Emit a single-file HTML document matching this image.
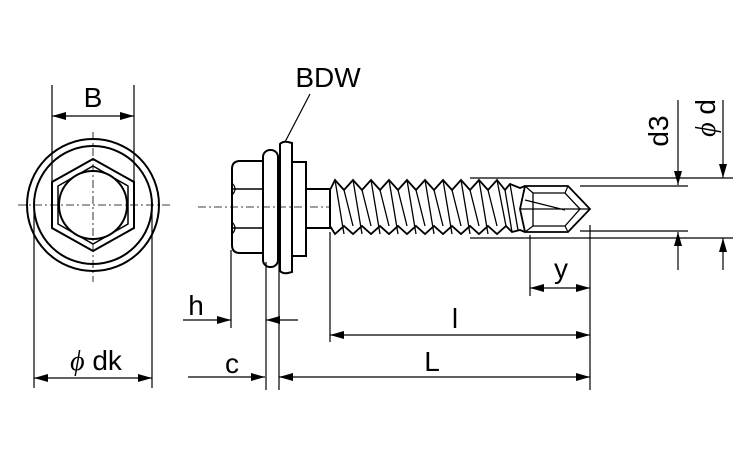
<!DOCTYPE html>
<html><head><meta charset="utf-8"><style>html,body{margin:0;padding:0;background:#fff}svg{display:block}</style></head><body>
<svg width="750" height="450" viewBox="0 0 750 450" xmlns="http://www.w3.org/2000/svg" font-family="Liberation Sans, sans-serif">
<defs>
<marker id="a" viewBox="0 0 14 8" refX="14" refY="4" markerWidth="14" markerHeight="8" markerUnits="userSpaceOnUse" orient="auto-start-reverse"><path d="M0,0 L14,4 L0,8 z" fill="#000"/></marker>
</defs>
<g fill="none" stroke="#000" stroke-width="1.2">
<!-- front view -->
<line x1="18" y1="205" x2="170" y2="205" stroke-width="0.8" stroke-dasharray="8,3,2,3"/>
<line x1="93" y1="132" x2="93" y2="282" stroke-width="0.8" stroke-dasharray="8,3,2,3"/>
<circle cx="93" cy="205" r="66" stroke-width="2"/>
<circle cx="93" cy="205" r="59" stroke-width="2"/>
<polygon points="93,159 134,182 134,228 93,251 52,228 52,182" stroke-width="2"/>
<polygon points="93,166 128,186 128,224 93,244 58,224 58,186" stroke-width="1.5"/>
<circle cx="93" cy="205" r="34" stroke-width="2"/>
<line x1="52" y1="85" x2="52" y2="182"/>
<line x1="134" y1="85" x2="134" y2="182"/>
<line x1="52" y1="116" x2="134" y2="116" marker-start="url(#a)" marker-end="url(#a)"/>
<line x1="34" y1="210" x2="34" y2="388"/>
<line x1="152" y1="210" x2="152" y2="388"/>
<line x1="34" y1="378" x2="152" y2="378" marker-start="url(#a)" marker-end="url(#a)"/>
<!-- side view -->
<line x1="198" y1="207" x2="330" y2="207" stroke-width="0.8" stroke-dasharray="8,3,2,3"/>
<path d="M240,161 H263 V253 H240 Q232,253 232,245 V169 Q232,161 240,161 Z" stroke-width="2"/>
<line x1="232" y1="189" x2="263" y2="189" stroke-width="1.5"/>
<line x1="232" y1="228" x2="263" y2="228" stroke-width="1.5"/>
<path d="M232,183 Q238,189 232,195 M232,222 Q238,228 232,234" stroke-width="1.2"/>
<rect x="263" y="150" width="15" height="117" rx="7" stroke-width="2"/>
<path d="M280,144 Q283,141 288,142 L292,143 V272 L288,273 Q283,274 280,271 Z" stroke-width="2"/>
<rect x="292" y="162" width="14" height="94" stroke-width="2"/>
<rect x="306" y="189" width="24" height="39" stroke-width="2"/>
<!-- threads -->
<path d="M330,190 L335,180 L344,190 L353,180 L362,190 L371,180 L380,190 L389,180 L398,190 L407,180 L416,190 L425,180 L434,190 L443,180 L452,190 L461,180 L470,190 L479,180 L488,190 L497,180 L505,190 L510,184 L520,188 L525,186" stroke-width="1.8"/>
<path d="M330,226 L335,234 L344,226 L353,234 L362,226 L371,234 L380,226 L389,234 L398,226 L407,234 L416,226 L425,234 L434,226 L443,234 L452,226 L461,234 L470,226 L479,234 L488,226 L497,234 L506,226 L512,232 L520,230 L525,232" stroke-width="1.8"/>
<line x1="330" y1="190" x2="330" y2="226" stroke-width="1.5"/>
<g stroke-width="1.3">
<path d="M335,180 L344,234 M344,190 L353,226 M353,180 L362,234 M362,190 L371,226 M371,180 L380,234 M380,190 L389,226 M389,180 L398,234 M398,190 L407,226 M407,180 L416,234 M416,190 L425,226 M425,180 L434,234 M434,190 L443,226 M443,180 L452,234 M452,190 L461,226 M461,180 L470,234 M470,190 L479,226 M479,180 L488,234 M488,190 L497,226 M497,180 L506,226 M505,190 L512,232 M510,184 L518,230"/>
</g>
<!-- drill tip -->
<polygon points="525,186 568,186 590,209 568,232 525,232 520,209" stroke-width="1.8"/>
<polygon points="533,193 565,193 580,209 565,226 533,226" stroke-width="1.3"/>
<path d="M525,186 L533,193 M568,186 L565,193 M590,209 L580,209 M568,232 L565,226 M525,232 L533,226 M520,209 L580,209 M525,200 L565,210" stroke-width="1.2"/>
<!-- BDW leader -->
<line x1="310" y1="94" x2="285" y2="142"/>
<!-- dims right -->
<line x1="470" y1="178" x2="733" y2="178"/>
<line x1="470" y1="238" x2="733" y2="238"/>
<line x1="580" y1="186" x2="688" y2="186"/>
<line x1="580" y1="231" x2="688" y2="231"/>
<line x1="678" y1="100" x2="678" y2="185" marker-end="url(#a)"/>
<line x1="678" y1="270" x2="678" y2="232" marker-end="url(#a)"/>
<line x1="723" y1="100" x2="723" y2="178" marker-end="url(#a)"/>
<line x1="723" y1="270" x2="723" y2="238" marker-end="url(#a)"/>
<!-- bottom dims -->
<line x1="231" y1="250" x2="231" y2="328"/>
<line x1="266" y1="262" x2="266" y2="390"/>
<line x1="279" y1="262" x2="279" y2="390"/>
<line x1="330" y1="232" x2="330" y2="342"/>
<line x1="530" y1="235" x2="530" y2="296"/>
<line x1="590" y1="225" x2="590" y2="390"/>
<line x1="183" y1="320" x2="231" y2="320" marker-end="url(#a)"/>
<line x1="298" y1="320" x2="266" y2="320" marker-end="url(#a)"/>
<line x1="188" y1="377" x2="265" y2="377" marker-end="url(#a)"/>
<line x1="279" y1="377" x2="590" y2="377" marker-start="url(#a)" marker-end="url(#a)"/>
<line x1="330" y1="335" x2="590" y2="335" marker-start="url(#a)" marker-end="url(#a)"/>
<line x1="530" y1="288" x2="590" y2="288" marker-start="url(#a)" marker-end="url(#a)"/>
</g>
<g fill="#000" font-size="28">
<text x="93" y="107" text-anchor="middle">B</text>
<text x="96" y="370" text-anchor="middle"><tspan font-family="Liberation Serif, serif" font-style="italic">ϕ</tspan> dk</text>
<text x="328" y="87" text-anchor="middle">BDW</text>
<text x="196" y="315" text-anchor="middle">h</text>
<text x="232" y="373" text-anchor="middle">c</text>
<text x="455" y="328" text-anchor="middle">l</text>
<text x="432" y="371" text-anchor="middle">L</text>
<text x="561" y="278" text-anchor="middle">y</text>
<text transform="translate(668,131) rotate(-90)" text-anchor="middle">d3</text>
<text transform="translate(715,118) rotate(-90)" text-anchor="middle"><tspan font-family="Liberation Serif, serif" font-style="italic">ϕ</tspan> d</text>
</g>
</svg>
</body></html>
